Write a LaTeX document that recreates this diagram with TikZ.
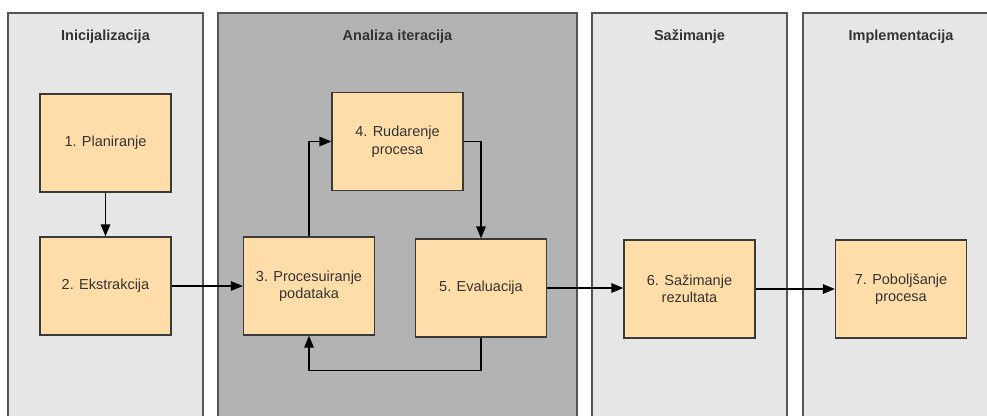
\documentclass[tikz,border=0pt]{standalone}
\usepackage{fontspec}
\setmainfont{Liberation Sans}
\usepackage{xcolor}
\usetikzlibrary{positioning,calc,arrows.meta}

\definecolor{lanelight}{HTML}{E6E6E6}
\definecolor{lanedark}{HTML}{B3B3B3}
\definecolor{laneline}{HTML}{555555}
\definecolor{stepfill}{HTML}{FFDDA9}
\definecolor{stepline}{HTML}{3A3A3A}
\definecolor{textgray}{HTML}{333333}

\tikzset{
    lane/.style={draw=laneline, line width=1.3pt},
    lanetitle/.style={font=\fontsize{14.5}{17}\selectfont\bfseries, text=textgray},
    stepbox/.style={draw=stepline, fill=stepfill, line width=1.3pt, minimum width=131pt, minimum height=98pt, align=center, font=\fontsize{14.5}{17.5}\selectfont, text=textgray},
    flow/.style={line width=1.4pt, -{Triangle[length=12pt,width=9.5pt]}}
}

\begin{document}
\begin{tikzpicture}[x=1pt, y=-1pt]
    \path[use as bounding box, clip] (0,0) rectangle (987,415);
    \fill[white] (0,0) rectangle (987,415);

    % Lanes
    \draw [lane, fill=lanelight] (8,13) rectangle (203,430);
    \draw [lane, fill=lanedark] (218,13) rectangle (577,430);
    \draw [lane, fill=lanelight] (592,13) rectangle (787,430);
    \draw [lane, fill=lanelight] (803,13) rectangle (1000,430);
    \node [lanetitle] (t1) at (105.5,37) {Inicijalizacija};
    \node [lanetitle] (t2) at (397.5,37) {Analiza iteracija};
    \node [lanetitle] (t3) at (689.5,37) {Sažimanje};
    \node [lanetitle] (t4) at (901,37) {Implementacija};

    % Steps
    \node [stepbox] (plan) at (105.5,143) {1. Planiranje};
    \node [stepbox] (ekstr) at (105.5,286) {2. Ekstrakcija};
    \node [stepbox] (proc) at (309,286) {3. Procesuiranje\\podataka};
    \node [stepbox] (rud) at (397.5,141.5) {4. Rudarenje\\procesa};
    \node [stepbox] (eval) at (481,288) {5. Evaluacija};
    \node [stepbox] (sazim) at (689.5,289) {6. Sažimanje\\rezultata};
    \node [stepbox] (pobolj) at (901,289) {7. Poboljšanje\\procesa};

    % Flow
    \draw [flow] (plan) -- (ekstr);
    \draw [flow] (ekstr) -- (proc);
    \draw [flow] (proc.north) |- (rud.west);
    \draw [flow] (rud.east) -| (eval.north);
    \draw [flow] (eval.south) -- ++(0,33) -| (proc.south);
    \draw [flow] (eval.east) -- (eval.east -| sazim.west);
    \draw [flow] (sazim) -- (pobolj);
\end{tikzpicture}
\end{document}
